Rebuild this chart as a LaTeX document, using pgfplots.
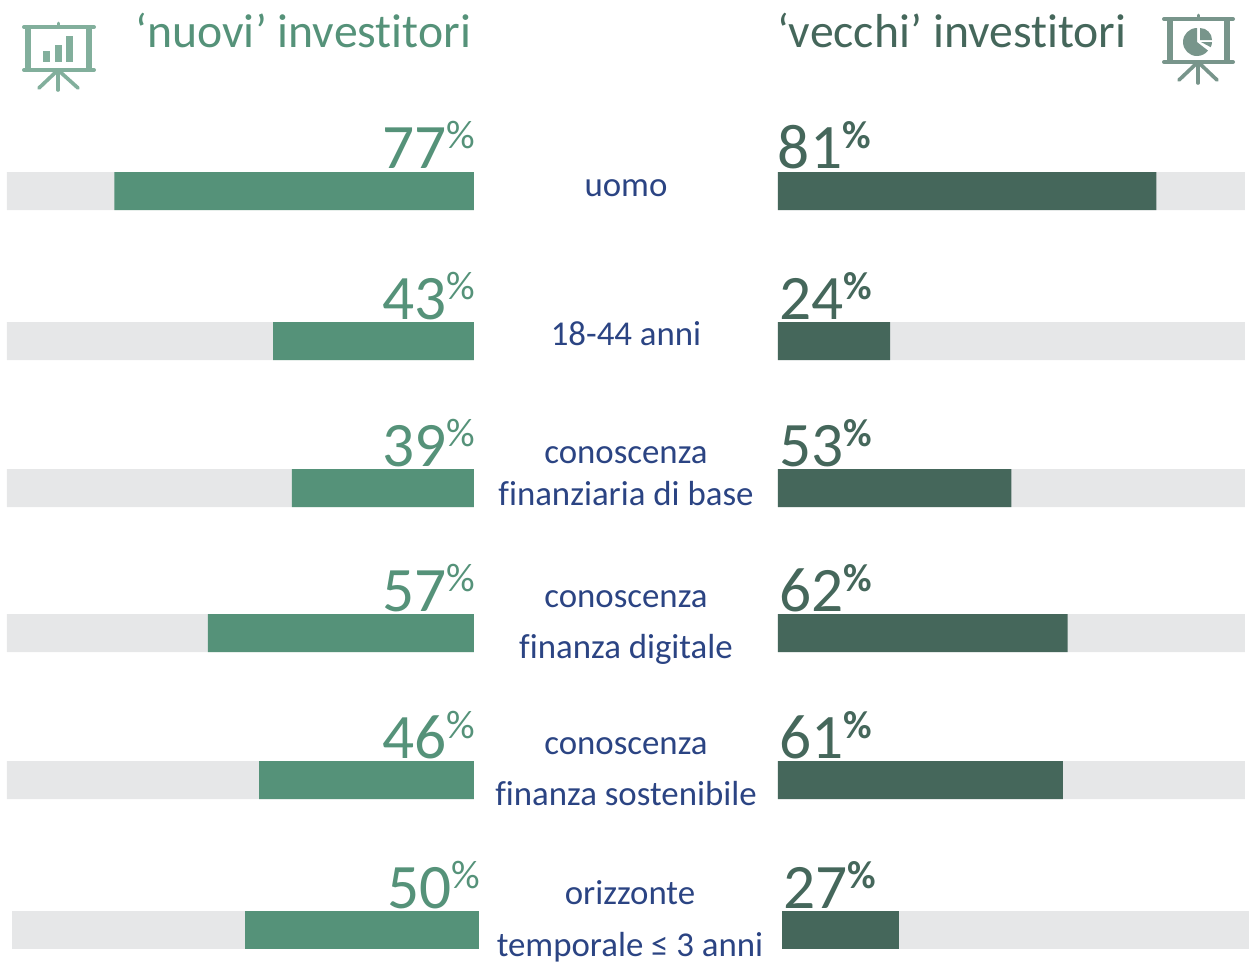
\documentclass[border=0pt]{standalone}
\usepackage{pgfplots}
\pgfplotsset{compat=1.18}
\usepackage{fontspec}
\setmainfont{Carlito}[Ligatures=NoCommon]
\definecolor{nuovi}{HTML}{559279}
\definecolor{vecchi}{HTML}{45675B}
\definecolor{track}{HTML}{E6E7E8}
\definecolor{navy}{HTML}{2B4483}
\definecolor{iconA}{HTML}{82AF9C}
\definecolor{iconB}{HTML}{78958B}
\newcommand{\titlefont}{\fontsize{28.6}{32}\selectfont}
\newcommand{\catfont}{\fontsize{20.9}{24}\selectfont}
\newcommand{\numfont}{\fontsize{38}{40}\selectfont}
\newcommand{\pctN}{\raisebox{12pt}{\fontsize{24}{26}\selectfont\%}}
\newcommand{\pctV}{\raisebox{12pt}{\fontsize{23.5}{26}\selectfont\bfseries\%}}
\tikzset{lab/.style={inner sep=0pt, outer sep=0pt}}
\pgfplotsset{
  rowaxis/.style={
    scale only axis, hide axis, clip=false,
    width=280.2pt, height=577.8pt,
    xmin=0, xmax=100, ymin=0, ymax=963, y dir=reverse,
    xbar, bar width=22.8pt, bar shift=0pt,
    anchor=south west,
  },
}
\begin{document}
\begin{tikzpicture}[x=0.6pt,y=-0.6pt]
\path[use as bounding box] (0,0) rectangle (1249,963);

% left, rows 1-5
\begin{axis}[rowaxis, x dir=reverse, at={(4.2pt,-577.8pt)}]
\addplot[fill=track, draw=none] coordinates {(100,191) (100,341) (100,488) (100,633) (100,780)};
\addplot[fill=nuovi, draw=none] coordinates {(77,191) (43,341) (39,488) (57,633) (46,780)};
\node[lab,anchor=base east,text=nuovi] at (axis cs:-0.2,168) {\numfont 77\pctN};
\node[lab,anchor=base east,text=nuovi] at (axis cs:-0.2,319) {\numfont 43\pctN};
\node[lab,anchor=base east,text=nuovi] at (axis cs:-0.2,466) {\numfont 39\pctN};
\node[lab,anchor=base east,text=nuovi] at (axis cs:-0.2,611) {\numfont 57\pctN};
\node[lab,anchor=base east,text=nuovi] at (axis cs:-0.2,758) {\numfont 46\pctN};
\end{axis}
% left, row 6
\begin{axis}[rowaxis, x dir=reverse, at={(7.2pt,-577.8pt)}]
\addplot[fill=track, draw=none] coordinates {(100,930)};
\addplot[fill=nuovi, draw=none] coordinates {(50,930)};
\node[lab,anchor=base east,text=nuovi] at (axis cs:-0.2,908) {\numfont 50\pctN};
\end{axis}
% right, rows 1-5
\begin{axis}[rowaxis, at={(466.8pt,-577.8pt)}]
\addplot[fill=track, draw=none] coordinates {(100,191) (100,341) (100,488) (100,633) (100,780)};
\addplot[fill=vecchi, draw=none] coordinates {(81,191) (24,341) (50,488) (62,633) (61,780)};
\node[lab,anchor=base west,text=vecchi] at (axis cs:0,168) {\numfont 81\pctV};
\node[lab,anchor=base west,text=vecchi] at (axis cs:0.3,319) {\numfont 24\pctV};
\node[lab,anchor=base west,text=vecchi] at (axis cs:0.3,466) {\numfont 53\pctV};
\node[lab,anchor=base west,text=vecchi] at (axis cs:0.3,611) {\numfont 62\pctV};
\node[lab,anchor=base west,text=vecchi] at (axis cs:0.3,758) {\numfont 61\pctV};
\end{axis}
% right, row 6
\begin{axis}[rowaxis, at={(469.2pt,-577.8pt)}]
\addplot[fill=track, draw=none] coordinates {(100,930)};
\addplot[fill=vecchi, draw=none] coordinates {(25,930)};
\node[lab,anchor=base west,text=vecchi] at (axis cs:0.3,908) {\numfont 27\pctV};
\end{axis}

% titles
\node[lab,anchor=base east,text=nuovi] at (471,47) {\titlefont ‘nuovi’ investitori};
\node[lab,anchor=base west,text=vecchi] at (777,47) {\titlefont ‘vecchi’ investitori};

% categories
\begin{scope}[text=navy]
\node[lab,anchor=base] at (626,196) {\catfont uomo};
\node[lab,anchor=base] at (626,345) {\catfont 18-44 anni};
\node[lab,anchor=base] at (626,463) {\catfont conoscenza};
\node[lab,anchor=base] at (626,505) {\catfont finanziaria di base};
\node[lab,anchor=base] at (626,607) {\catfont conoscenza};
\node[lab,anchor=base] at (626,658) {\catfont finanza digitale};
\node[lab,anchor=base] at (626,754) {\catfont conoscenza};
\node[lab,anchor=base] at (626,805) {\catfont finanza sostenibile};
\node[lab,anchor=base] at (630,904) {\catfont orizzonte};
\node[lab,anchor=base] at (630,956) {\catfont temporale ≤ 3 anni};
\end{scope}

% left icon
\begin{scope}[draw=iconA,line width=2.4pt,line cap=round]
\draw (24,27) -- (94,27);
\draw (24,70) -- (94,70);
\draw[line width=3.2pt,line cap=butt] (28,27) -- (28,70);
\draw[line width=3.2pt,line cap=butt] (89,27) -- (89,70);
\draw[line width=1.8pt] (58,23) -- (58,27);
\draw[line width=2.2pt] (58,70) -- (58,90);
\draw[line width=2.2pt] (58,70) -- (39,88);
\draw[line width=2.2pt] (58,70) -- (78,88);
\fill[iconA] (43,51) rectangle (50,62);
\fill[iconA] (55,45) rectangle (62,62);
\fill[iconA] (66,36) rectangle (73,62);
\end{scope}
% right icon
\begin{scope}[draw=iconB,line width=2.4pt,line cap=round]
\draw (1164,19) -- (1233,19);
\draw (1164,62) -- (1233,62);
\draw[line width=3.2pt,line cap=butt] (1170,19) -- (1170,62);
\draw[line width=3.2pt,line cap=butt] (1227,19) -- (1227,62);
\draw[line width=1.8pt] (1198,15) -- (1198,19);
\draw[line width=2.2pt] (1198,62) -- (1198,83);
\draw[line width=2.2pt] (1198,62) -- (1179,80);
\draw[line width=2.2pt] (1198,62) -- (1217,80);
\fill[iconB] (1197,42) -- (1197,28) arc[start angle=-90,end angle=-322,radius=14] -- cycle;
\fill[iconB] (1200,28) -- (1200,40) -- (1212,40) arc[start angle=0,end angle=-90,radius=12] -- cycle;
\fill[iconB] (1201,42) -- (1212,42) arc[start angle=0,end angle=28,radius=11] -- cycle;
\end{scope}
\end{tikzpicture}
\end{document}
